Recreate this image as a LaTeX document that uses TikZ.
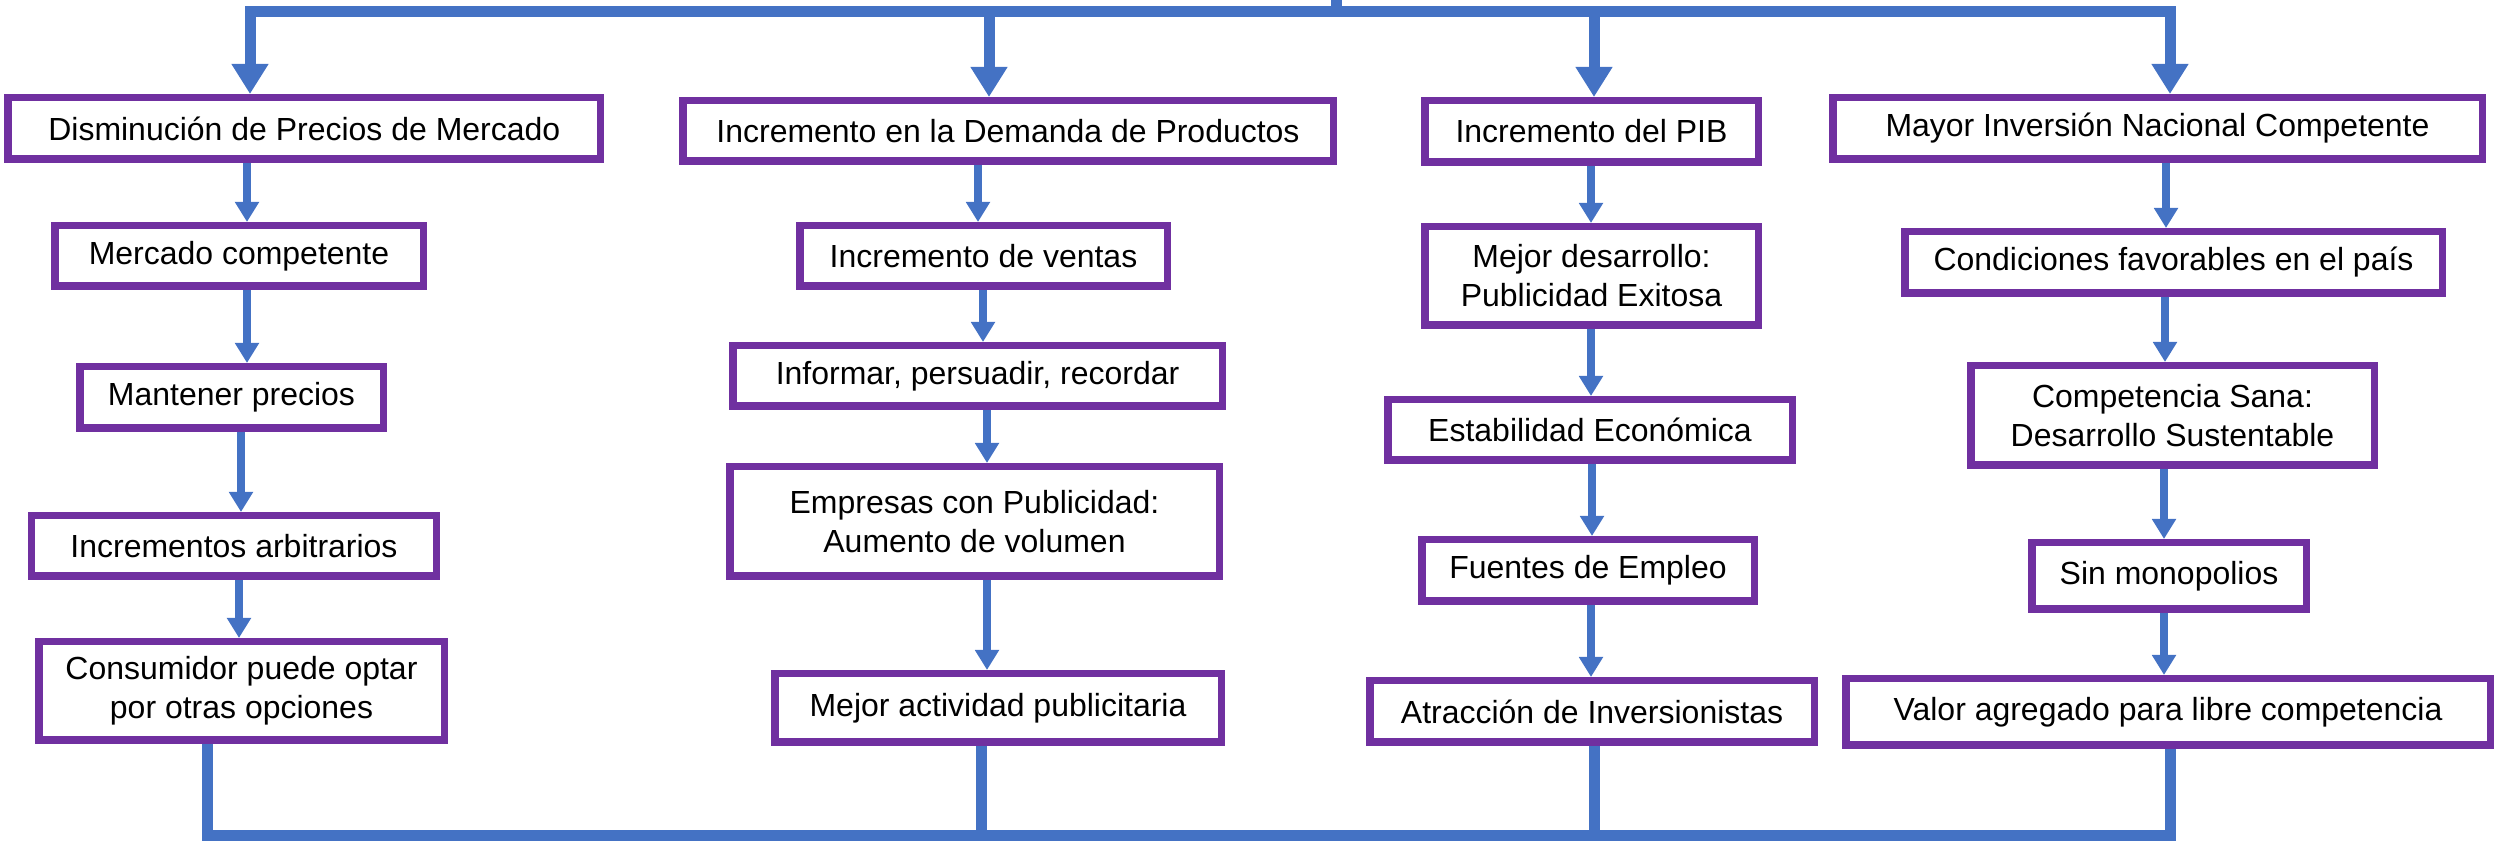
\documentclass[tikz,border=0pt]{standalone}
\usepackage{fontspec}
\setmainfont{Liberation Sans}
\usepackage{tikz}
\usetikzlibrary{arrows.meta}
\definecolor{azul}{HTML}{4472C4}
\definecolor{morado}{HTML}{7030A0}
\tikzset{
	caja/.style={draw=morado, line width=0.075cm, fill=white, align=center, inner sep=0pt, font=\fontsize{9.1}{11.1}\selectfont},
	flecha/.style={draw=azul, line width=0.08cm, -{Triangle[length=0.2cm, width=0.23cm]}},
	flechagrande/.style={draw=azul, line width=0.11cm, -{Triangle[length=0.3cm, width=0.35cm]}},
	linea/.style={draw=azul, line width=0.11cm}
}
\begin{document}
\begin{tikzpicture}
		%%%%% START %%%%%
		\useasboundingbox (0, 0) rectangle (24.97, -8.41);
		
		\node[caja, minimum width=5.925cm, minimum height=0.615cm] (d1) at (3.043, -1.285) {Disminución de Precios de Mercado};
		\node[caja, minimum width=3.685cm, minimum height=0.605cm] (d2) at (2.39, -2.56) {Mercado competente};
		\node[caja, minimum width=3.035cm, minimum height=0.615cm] (d3) at (2.315, -3.975) {Mantener precios};
		\node[caja, minimum width=4.045cm, minimum height=0.605cm] (d4) at (2.34, -5.46) {Incrementos arbitrarios};
		\node[caja, minimum width=4.055cm, minimum height=0.985cm] (d5) at (2.415, -6.91) {Consumidor puede optar\\por otras opciones};
		
		\node[caja, minimum width=6.505cm, minimum height=0.605cm] (i1) at (10.08, -1.31) {Incremento en la Demanda de Productos};
		\node[caja, minimum width=3.675cm, minimum height=0.605cm] (i2) at (9.835, -2.56) {Incremento de ventas};
		\node[caja, minimum width=4.895cm, minimum height=0.605cm] (i3) at (9.775, -3.76) {Informar, persuadir, recordar};
		\node[caja, minimum width=4.895cm, minimum height=1.095cm] (i4) at (9.745, -5.215) {Empresas con Publicidad:\\Aumento de volumen};
		\node[caja, minimum width=4.465cm, minimum height=0.685cm] (i5) at (9.98, -7.08) {Mejor actividad publicitaria};
		
		\node[caja, minimum width=3.335cm, minimum height=0.615cm] (p1) at (15.915, -1.315) {Incremento del PIB};
		\node[caja, minimum width=3.335cm, minimum height=0.985cm] (p2) at (15.915, -2.76) {Mejor desarrollo:\\Publicidad Exitosa};
		\node[caja, minimum width=4.045cm, minimum height=0.605cm] (p3) at (15.90, -4.30) {Estabilidad Económica};
		\node[caja, minimum width=3.325cm, minimum height=0.615cm] (p4) at (15.88, -5.705) {Fuentes de Empleo};
		\node[caja, minimum width=4.445cm, minimum height=0.615cm] (p5) at (15.92, -7.115) {Atracción de Inversionistas};
		
		\node[caja, minimum width=6.495cm, minimum height=0.615cm] (m1) at (21.575, -1.285) {Mayor Inversión Nacional Competente};
		\node[caja, minimum width=5.375cm, minimum height=0.615cm] (m2) at (21.735, -2.625) {Condiciones favorables en el país};
		\node[caja, minimum width=4.035cm, minimum height=0.995cm] (m3) at (21.725, -4.155) {Competencia Sana:\\Desarrollo Sustentable};
		\node[caja, minimum width=2.745cm, minimum height=0.665cm] (m4) at (21.69, -5.76) {Sin monopolios};
		\node[caja, minimum width=6.445cm, minimum height=0.665cm] (m5) at (21.68, -7.12) {Valor agregado para libre competencia};
		
		% barra de arriba
		\coordinate (entrada) at (13.36, 0);
		\coordinate (barra) at (13.36, -0.115);
		\coordinate (barrai) at (9.89, -0.115);
		\coordinate (barrap) at (15.94, -0.115);
		\draw[linea] (entrada) -- (barra);
		\draw[flechagrande] (barra) -| (d1.north -| 2.50, 0);
		\draw[flechagrande] (barra) -| (m1.north -| 21.70, 0);
		\draw[flechagrande] (barrai) -- (i1.north -| barrai);
		\draw[flechagrande] (barrap) -- (p1.north -| barrap);
		
		\draw[flecha] (d1.south -| 2.47, 0) -- (d2.north -| 2.47, 0);
		\draw[flecha] (d2.south -| 2.47, 0) -- (d3.north -| 2.47, 0);
		\draw[flecha] (d3.south -| 2.41, 0) -- (d4.north -| 2.41, 0);
		\draw[flecha] (d4.south -| 2.39, 0) -- (d5.north -| 2.39, 0);
		
		\draw[flecha] (i1.south -| 9.78, 0) -- (i2.north -| 9.78, 0);
		\draw[flecha] (i2.south -| 9.83, 0) -- (i3.north -| 9.83, 0);
		\draw[flecha] (i3.south -| 9.87, 0) -- (i4.north -| 9.87, 0);
		\draw[flecha] (i4.south -| 9.87, 0) -- (i5.north -| 9.87, 0);
		
		\draw[flecha] (p1.south -| 15.91, 0) -- (p2.north -| 15.91, 0);
		\draw[flecha] (p2.south -| 15.91, 0) -- (p3.north -| 15.91, 0);
		\draw[flecha] (p3.south -| 15.92, 0) -- (p4.north -| 15.92, 0);
		\draw[flecha] (p4.south -| 15.91, 0) -- (p5.north -| 15.91, 0);
		
		\draw[flecha] (m1.south -| 21.66, 0) -- (m2.north -| 21.66, 0);
		\draw[flecha] (m2.south -| 21.65, 0) -- (m3.north -| 21.65, 0);
		\draw[flecha] (m3.south -| 21.64, 0) -- (m4.north -| 21.64, 0);
		\draw[flecha] (m4.south -| 21.64, 0) -- (m5.north -| 21.64, 0);
		
		% barra de abajo
		\draw[linea] (d5.south -| 2.07, 0) |- (21.70, -8.355) -- (m5.south -| 21.70, 0);
		\draw[linea] (i5.south -| 9.81, 0) -- (9.81, -8.355);
		\draw[linea] (p5.south -| 15.94, 0) -- (15.94, -8.355);
		
		%%%%% END %%%%%
	\end{tikzpicture}
\end{document}
